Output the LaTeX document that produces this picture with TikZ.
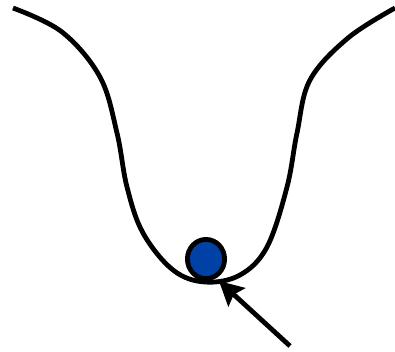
\documentclass[tikz,border=0pt]{standalone}
\usetikzlibrary{arrows.meta, shapes.geometric}
\definecolor{ballBlue}{HTML}{0041A6}

\begin{document}
\begin{tikzpicture}[
    x=0.025cm, y=-0.025cm,
    well/.style={line width=0.12cm, black},
    ball/.style={ellipse, draw=black, line width=0.12cm, fill=ballBlue,
                 inner sep=0pt, minimum width=0.93cm, minimum height=0.98cm},
    push/.style={line width=0.12cm,
                 -{Stealth[length=0.6cm, width=0.62cm, inset=0.1cm]}},
  ]
    \useasboundingbox (0,0) rectangle (395,351);
    % potential well
    \draw[well] plot[smooth, tension=0.6] coordinates {
      (13,8) (62,32) (100,77) (117,133) (127,187) (143,233) (173,270)
      (205,282) (240,275) (267,247) (287,187) (297,133) (310,80)
      (348,38) (395,8)};
    \node[ball] (ball) at (206,259) {};
    \coordinate (tip) at (219,281);
    \coordinate (tail) at (290,346);
    \draw[push] (tail) -- (tip);
  \end{tikzpicture}
\end{document}
